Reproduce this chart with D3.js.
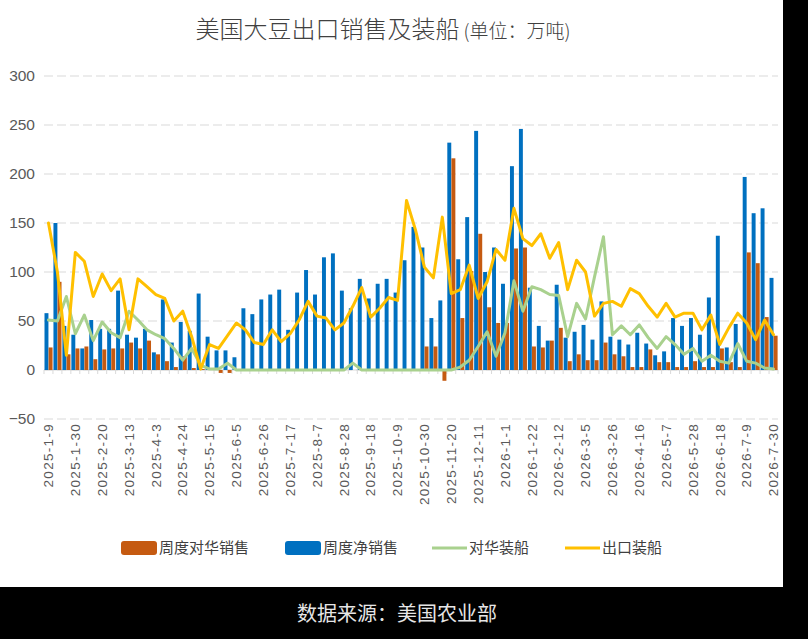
<!DOCTYPE html>
<html>
<head>
<meta charset="utf-8">
<script src="https://cdn.jsdelivr.net/npm/d3@7"></script>
<style>
  body { margin: 0; background: #000; }
  svg { display: block; font-family: "Noto Sans CJK SC", "Noto Sans", sans-serif; }
</style>
</head>
<body>
<div class="chart"></div>
<script>
// weekly report dates
var weeks = [
    '2025-1-9', '2025-1-16', '2025-1-23', '2025-1-30', '2025-2-6', '2025-2-13', '2025-2-20', '2025-2-27',
    '2025-3-6', '2025-3-13', '2025-3-20', '2025-3-27', '2025-4-3', '2025-4-10', '2025-4-17', '2025-4-24',
    '2025-5-1', '2025-5-8', '2025-5-15', '2025-5-22', '2025-5-29', '2025-6-5', '2025-6-12', '2025-6-19',
    '2025-6-26', '2025-7-3', '2025-7-10', '2025-7-17', '2025-7-24', '2025-7-31', '2025-8-7', '2025-8-14',
    '2025-8-21', '2025-8-28', '2025-9-4', '2025-9-11', '2025-9-18', '2025-9-25', '2025-10-2', '2025-10-9',
    '2025-10-16', '2025-10-23', '2025-10-30', '2025-11-6', '2025-11-13', '2025-11-20', '2025-11-27', '2025-12-4',
    '2025-12-11', '2025-12-18', '2025-12-25', '2026-1-1', '2026-1-8', '2026-1-15', '2026-1-22', '2026-1-29',
    '2026-2-5', '2026-2-12', '2026-2-19', '2026-2-26', '2026-3-5', '2026-3-12', '2026-3-19', '2026-3-26',
    '2026-4-2', '2026-4-9', '2026-4-16', '2026-4-23', '2026-4-30', '2026-5-7', '2026-5-14', '2026-5-21',
    '2026-5-28', '2026-6-4', '2026-6-11', '2026-6-18', '2026-6-25', '2026-7-2', '2026-7-9', '2026-7-16',
    '2026-7-23', '2026-7-30'
];

// labels shown on the x axis
var tickLabels = [
    '2025-1-9', '2025-1-30', '2025-2-20', '2025-3-13', '2025-4-3', '2025-4-24', '2025-5-15', '2025-6-5',
    '2025-6-26', '2025-7-17', '2025-8-7', '2025-8-28', '2025-9-18', '2025-10-9', '2025-10-30', '2025-11-20',
    '2025-12-11', '2026-1-1', '2026-1-22', '2026-2-12', '2026-3-5', '2026-3-26', '2026-4-16', '2026-5-7',
    '2026-5-28', '2026-6-18', '2026-7-9', '2026-7-30'
];
var yTicks = [-50, 0, 50, 100, 150, 200, 250, 300];

// 周度对华销售
var chinaSales = [
    23, 90, 16, 22, 24, 11, 21, 22, 22, 28, 22, 30, 16, 9, 3, 14, 2, 1, 0, -3,
    -3, 0, 0, 0, 0, 0, 0, 0, 0, 0, 0, 0, 0, 0, 0, 0, 0, 0, 0, 0,
    0, 0, 24, 24, -11, 216, 53, 101, 139, 64, 48, 48, 124, 125, 24, 23, 30, 43, 9, 16,
    10, 10, 28, 16, 14, 3, 3, 21, 8, 8, 3, 3, 9, 3, 3, 22, 8, 3, 120, 109,
    54, 35
];
// 周度净销售
var netSales = [
    58, 150, 45, 36, 22, 51, 42, 42, 81, 36, 33, 42, 18, 72, 28, 49, 40, 78, 34, 20,
    20, 13, 63, 57, 72, 77, 82, 41, 79, 102, 77, 115, 119, 81, 63, 93, 73, 88, 93, 79,
    112, 146, 125, 53, 71, 232, 113, 156, 244, 100, 125, 88, 208, 246, 84, 45, 30, 87, 33, 39,
    46, 31, 70, 34, 31, 26, 38, 27, 15, 19, 53, 45, 53, 36, 74, 137, 23, 47, 197, 160,
    165, 94
];
// 对华装船
var chinaShip = [
    51, 50, 75, 37, 56, 30, 49, 38, 33, 60, 51, 41, 36, 32, 22, 10, 22, 5, 1, 1,
    7, 0, 0, 0, 0, 0, 0, 0, 0, 0, 0, 0, 0, 0, 7, 0, 0, 0, 0, 0,
    0, 0, 0, 0, 0, 0, 3, 10, 24, 39, 14, 38, 91, 60, 85, 82, 77, 76, 34, 68,
    52, 95, 136, 36, 45, 36, 46, 33, 22, 34, 26, 16, 22, 9, 15, 9, 7, 27, 9, 7,
    2, 1
];
// 出口装船
var exportShip = [
    150, 100, 15, 120, 111, 75, 98, 81, 93, 41, 93, 85, 77, 73, 50, 60, 34, 1, 26, 22,
    35, 48, 41, 28, 26, 41, 29, 37, 51, 70, 55, 53, 41, 48, 65, 84, 54, 63, 74, 71,
    173, 143, 105, 94, 156, 78, 82, 107, 73, 90, 123, 112, 165, 134, 127, 139, 114, 130, 82, 112,
    100, 55, 68, 70, 65, 83, 78, 65, 54, 68, 54, 58, 58, 41, 56, 26, 43, 58, 48, 31,
    51, 36
];

var colors = {
    china: '#c55a11',
    net: '#0070c0',
    chinaShip: '#a9d18e',
    exportShip: '#ffc000'
};

var svg = d3.select('.chart')
    .append('svg')
    .attr('width', 808)
    .attr('height', 639);

// black frame + white card
svg.append('rect').attr('width', 808).attr('height', 639).attr('fill', '#000');
svg.append('rect').attr('width', 783).attr('height', 587).attr('fill', '#fff');

var x = d3.scaleBand()
    .domain(weeks)
    .range([44, 778]);
var bw = x.bandwidth();

var y = d3.scaleLinear()
    .domain([-50, 300])
    .range([419, 76]);

// grid lines
svg.append('g')
    .selectAll('line')
    .data(yTicks)
    .enter()
    .append('line')
    .attr('x1', 44)
    .attr('x2', 778)
    .attr('y1', d => y(d))
    .attr('y2', d => y(d))
    .attr('stroke', '#d9d9d9')
    .attr('stroke-dasharray', '9,4');

// y axis labels
var yAxis = svg.append('g')
    .attr('transform', 'translate(44, 0)')
    .call(d3.axisLeft(y).tickValues(yTicks).tickSize(0).tickPadding(9));
yAxis.select('.domain').remove();
yAxis.selectAll('text')
    .attr('fill', '#595959')
    .style('font-size', '15.5px');

// zero line with ticks
svg.append('line')
    .attr('x1', 44).attr('x2', 778)
    .attr('y1', y(0)).attr('y2', y(0))
    .attr('stroke', '#d9d9d9');
svg.append('g')
    .selectAll('line')
    .data(weeks.concat(['end']))
    .enter()
    .append('line')
    .attr('x1', (d, i) => 44 + i * bw)
    .attr('x2', (d, i) => 44 + i * bw)
    .attr('y1', y(0))
    .attr('y2', y(0) + 4)
    .attr('stroke', '#d9d9d9');

// x axis labels at the bottom
var xAxis = svg.append('g')
    .attr('transform', `translate(0, ${y(-50)})`)
    .call(d3.axisBottom(x).tickValues(tickLabels).tickSize(0));
xAxis.select('.domain').remove();
xAxis.selectAll('text')
    .attr('transform', 'rotate(-90)')
    .attr('x', -4)
    .attr('y', 0)
    .attr('dy', '0.35em')
    .attr('text-anchor', 'end')
    .attr('fill', '#595959')
    .style('font-size', '13.5px')
    .style('letter-spacing', '1.3px');

// bars: net sales left, china sales right within each week
var xs = d3.scaleBand()
    .domain(['net', 'china'])
    .range([0.5, bw - 0.4])
    .paddingInner(0.04);

function bars(values, key) {
    svg.append('g')
        .selectAll('rect')
        .data(values)
        .enter()
        .append('rect')
        .attr('x', (d, i) => x(weeks[i]) + xs(key))
        .attr('width', xs.bandwidth())
        .attr('y', d => y(Math.max(0, d)))
        .attr('height', d => Math.abs(y(d) - y(0)))
        .attr('fill', colors[key]);
}
bars(netSales, 'net');
bars(chinaSales, 'china');

// lines
var line = d3.line()
    .x((d, i) => x(weeks[i]) + bw / 2)
    .y(d => y(d));

function drawLine(values, color) {
    svg.append('path')
        .datum(values)
        .attr('d', line)
        .attr('fill', 'none')
        .attr('stroke', color)
        .attr('stroke-width', 3)
        .attr('stroke-linejoin', 'round')
        .attr('stroke-linecap', 'round');
}
drawLine(chinaShip, colors.chinaShip);
drawLine(exportShip, colors.exportShip);

// title
var title = svg.append('text')
    .attr('x', 383)
    .attr('y', 38)
    .attr('text-anchor', 'middle')
    .attr('fill', '#404040')
    .style('font-weight', 300);
title.append('tspan').style('font-size', '24px').text('美国大豆出口销售及装船');
title.append('tspan').style('font-size', '19px').text(' (单位：万吨)');

// legend
var legend = [
    {name: '周度对华销售', color: colors.china, type: 'rect', x: 121},
    {name: '周度净销售', color: colors.net, type: 'rect', x: 285},
    {name: '对华装船', color: colors.chinaShip, type: 'line', x: 432},
    {name: '出口装船', color: colors.exportShip, type: 'line', x: 565}
];
var lg = svg.append('g')
    .selectAll('g')
    .data(legend)
    .enter()
    .append('g')
    .attr('transform', d => `translate(${d.x}, 548)`);
lg.filter(d => d.type === 'rect')
    .append('rect')
    .attr('x', 0).attr('y', -7)
    .attr('width', 36).attr('height', 14)
    .attr('rx', 3)
    .attr('fill', d => d.color);
lg.filter(d => d.type === 'line')
    .append('line')
    .attr('x1', 0).attr('x2', 35)
    .attr('stroke', d => d.color)
    .attr('stroke-width', 3);
lg.append('text')
    .attr('x', d => d.type === 'rect' ? 38 : 37)
    .attr('dy', '0.35em')
    .attr('fill', '#404040')
    .style('font-size', '15px')
    .text(d => d.name);

// source note
svg.append('text')
    .attr('x', 397)
    .attr('y', 614)
    .attr('dy', '0.35em')
    .attr('text-anchor', 'middle')
    .attr('fill', '#e6e6e6')
    .style('font-size', '20px')
    .text('数据来源：美国农业部');
</script>
</body>
</html>
